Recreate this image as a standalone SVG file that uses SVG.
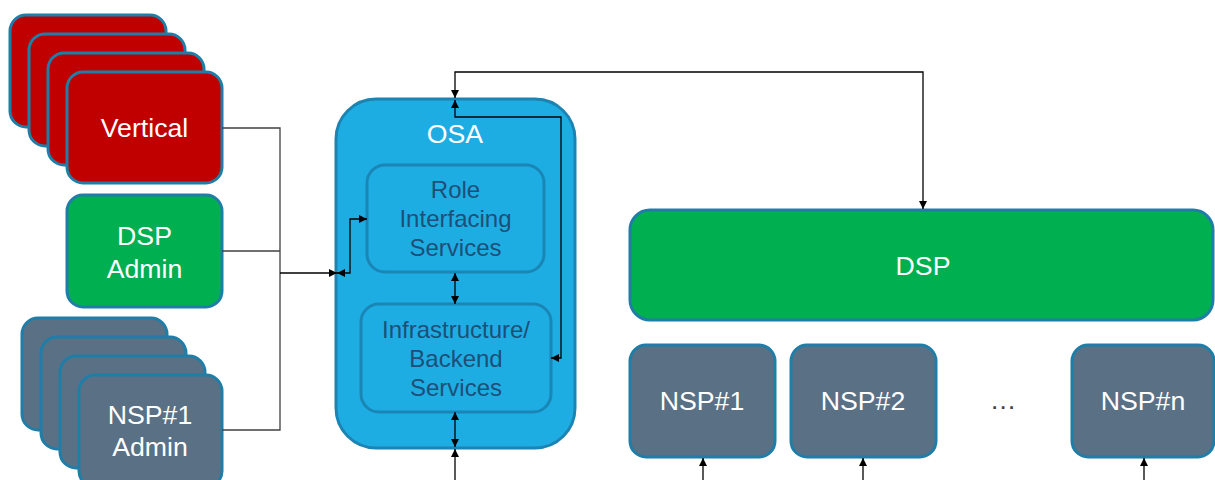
<svg xmlns="http://www.w3.org/2000/svg" width="1215" height="480" viewBox="0 0 1215 480">
  <style>
    .box { stroke: #1f7ea8; stroke-width: 3; }
    .red { fill: #c00000; }
    .green { fill: #00b050; }
    .slate { fill: #5a7085; }
    .osa { fill: #1eade3; stroke: #1c84b2; stroke-width: 3; }
    .inner { fill: #1eade3; stroke: #1a86b6; stroke-width: 3; }
    .lbl { font-family: "Liberation Sans", Arial, sans-serif; font-size: 26.7px; fill: #ffffff; text-anchor: middle; }
    .ilbl { font-family: "Liberation Sans", Arial, sans-serif; font-size: 24px; fill: #1d4f78; text-anchor: middle; }
    .bus { fill: none; stroke: #404040; stroke-width: 1.3; }
    .wire { fill: none; stroke: #000000; stroke-width: 1.3; }
  </style>
  <defs>
    <marker id="arr" viewBox="0 0 10 10" refX="10" refY="5" markerWidth="9" markerHeight="8" markerUnits="userSpaceOnUse" orient="auto-start-reverse">
      <path d="M0,0 L10,5 L0,10 z" fill="#000000"/>
    </marker>
  </defs>

  <rect width="1215" height="480" fill="#ffffff"/>

  <!-- Vertical stack -->
  <g id="vertical">
    <rect class="box red" x="10" y="15" width="156" height="112" rx="16"/>
    <rect class="box red" x="29" y="34" width="156" height="112" rx="16"/>
    <rect class="box red" x="48" y="53" width="156" height="112" rx="16"/>
    <rect class="box red" x="67" y="72" width="155" height="111" rx="16"/>
    <text class="lbl" x="144.5" y="137">Vertical</text>
  </g>

  <!-- DSP admin -->
  <g id="dsp-admin">
    <rect class="box green" x="67" y="195" width="155" height="112" rx="16"/>
    <text class="lbl" x="144.5" y="245">DSP</text>
    <text class="lbl" x="144.5" y="278">Admin</text>
  </g>

  <!-- NSP#1 admin stack -->
  <g id="nsp-admin">
    <rect class="box slate" x="22" y="318" width="145" height="112" rx="16"/>
    <rect class="box slate" x="41" y="337" width="145" height="112" rx="16"/>
    <rect class="box slate" x="60" y="356" width="145" height="112" rx="16"/>
    <rect class="box slate" x="79" y="375" width="143" height="112" rx="16"/>
    <text class="lbl" x="150" y="424">NSP#1</text>
    <text class="lbl" x="150" y="456">Admin</text>
  </g>

  <!-- OSA container -->
  <g id="osa">
    <rect class="osa" x="336" y="99" width="239" height="349" rx="40"/>
    <text class="lbl" x="455" y="143">OSA</text>
  </g>

  <g id="role-interfacing">
    <rect class="inner" x="367" y="165" width="177" height="107" rx="18"/>
    <text class="ilbl" x="455.5" y="198">Role</text>
    <text class="ilbl" x="455.5" y="227">Interfacing</text>
    <text class="ilbl" x="455.5" y="256">Services</text>
  </g>

  <g id="infrastructure">
    <rect class="inner" x="361" y="304" width="190" height="108" rx="18"/>
    <text class="ilbl" x="456" y="338">Infrastructure/</text>
    <text class="ilbl" x="456" y="367">Backend</text>
    <text class="ilbl" x="456" y="396">Services</text>
  </g>

  <!-- DSP -->
  <g id="dsp">
    <rect class="box green" x="630" y="210" width="583" height="110" rx="20"/>
    <text class="lbl" x="923" y="275">DSP</text>
  </g>

  <!-- NSP nodes -->
  <g id="nsp1">
    <rect class="box slate" x="630" y="345" width="145" height="112" rx="16"/>
    <text class="lbl" x="702" y="410">NSP#1</text>
  </g>
  <g id="nsp2">
    <rect class="box slate" x="791" y="345" width="145" height="112" rx="16"/>
    <text class="lbl" x="863" y="410">NSP#2</text>
  </g>
  <g id="ellipsis">
    <text class="lbl" x="1003" y="409" style="fill:#404040">…</text>
  </g>
  <g id="nspn">
    <rect class="box slate" x="1072" y="345" width="142" height="112" rx="16"/>
    <text class="lbl" x="1143" y="410">NSP#n</text>
  </g>

  <!-- Connectors -->
  <g id="connectors">
    <path class="bus" d="M222,128 H280 V430 H222"/>
    <path class="bus" d="M222,251 H280"/>
    <path class="wire" d="M280,273 H337" marker-end="url(#arr)"/>
    <path class="wire" d="M337,273 H350 V219 H367" marker-start="url(#arr)" marker-end="url(#arr)"/>
    <path class="wire" d="M455,273 V304" marker-start="url(#arr)" marker-end="url(#arr)"/>
    <path class="wire" d="M455,412 V447" marker-start="url(#arr)" marker-end="url(#arr)"/>
    <path class="wire" d="M455,480 V449" marker-end="url(#arr)"/>
    <path class="wire" d="M455,98 V72 H923 V209" marker-start="url(#arr)" marker-end="url(#arr)"/>
    <path class="wire" d="M455,100 V117 H561 V358 H551" marker-start="url(#arr)" marker-end="url(#arr)"/>
    <path class="wire" d="M703,480 V458" marker-end="url(#arr)"/>
    <path class="wire" d="M863,480 V458" marker-end="url(#arr)"/>
    <path class="wire" d="M1144,480 V458" marker-end="url(#arr)"/>
  </g>
</svg>
